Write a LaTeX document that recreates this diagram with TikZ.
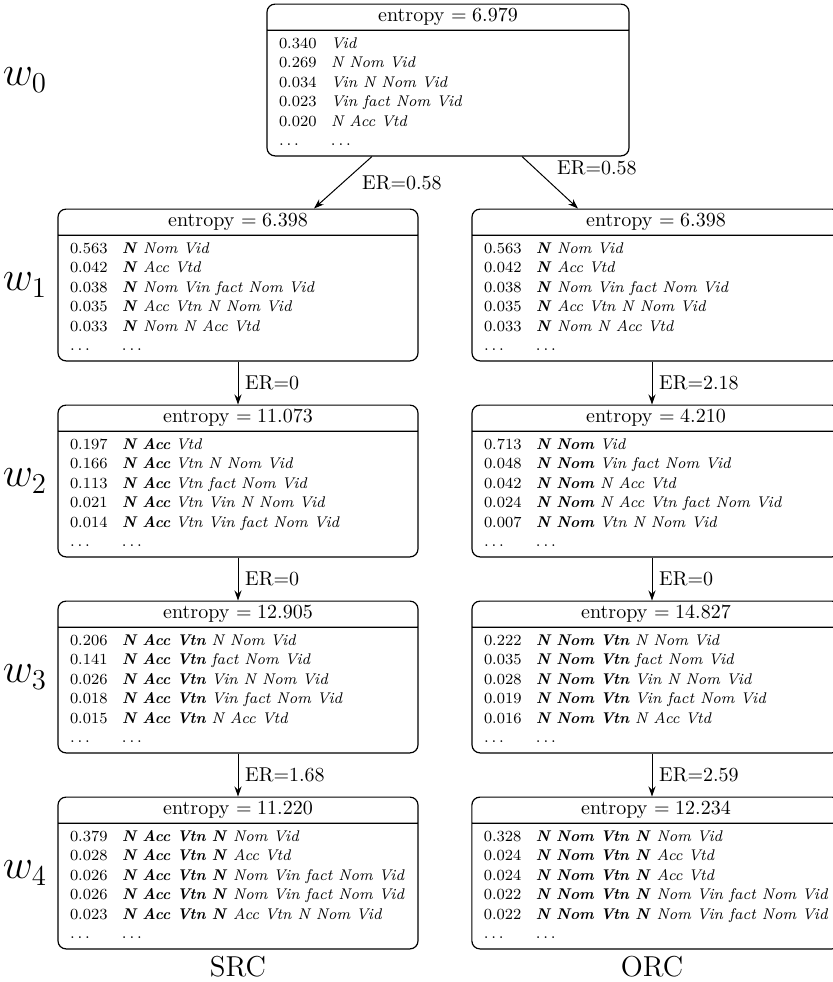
\documentclass[tikz,border=0pt]{standalone}
\usetikzlibrary{shapes.multipart,positioning,arrows.meta}
\newcommand{\pfx}[1]{\textbf{\textit{#1}}}
\newcommand{\rowfont}{\fontsize{7.75}{9.7}\selectfont}
\tikzset{
  cbox/.style={draw, line width=0.6pt, rounded corners=4pt,
    rectangle split, rectangle split parts=2,
    rectangle split part align={center,left},
    minimum width=#1, inner xsep=6pt, inner ysep=2pt},
  arr/.style={-{Stealth[length=5pt,width=3.5pt]}, line width=0.5pt},
  wlbl/.style={font=\huge},
  er/.style={font=\normalsize}
}
\begin{document}
\begin{tikzpicture}[x=0.5pt,y=-0.5pt]
\useasboundingbox (0,0) rectangle (832,982);

% w0
\node[cbox=181pt] (t0) at (448,80) {entropy $= 6.979$
\nodepart{two}{\rowfont\begin{tabular}{@{}p{26pt}@{}l@{}}
0.340 & \textit{Vid}\\
0.269 & \textit{N Nom Vid}\\
0.034 & \textit{Vin N Nom Vid}\\
0.023 & \textit{Vin fact Nom Vid}\\
0.020 & \textit{N Acc Vtd}\\
$\ldots$ & $\ldots$
\end{tabular}}};

% w1
\node[cbox=180pt] (s1) at (238,285) {entropy $= 6.398$
\nodepart{two}{\rowfont\begin{tabular}{@{}p{26pt}@{}l@{}}
0.563 & \pfx{N} \textit{Nom Vid}\\
0.042 & \pfx{N} \textit{Acc Vtd}\\
0.038 & \pfx{N} \textit{Nom Vin fact Nom Vid}\\
0.035 & \pfx{N} \textit{Acc Vtn N Nom Vid}\\
0.033 & \pfx{N} \textit{Nom N Acc Vtd}\\
$\ldots$ & $\ldots$
\end{tabular}}};
\node[cbox=184pt] (o1) at (656,285) {entropy $= 6.398$
\nodepart{two}{\rowfont\begin{tabular}{@{}p{26pt}@{}l@{}}
0.563 & \pfx{N} \textit{Nom Vid}\\
0.042 & \pfx{N} \textit{Acc Vtd}\\
0.038 & \pfx{N} \textit{Nom Vin fact Nom Vid}\\
0.035 & \pfx{N} \textit{Acc Vtn N Nom Vid}\\
0.033 & \pfx{N} \textit{Nom N Acc Vtd}\\
$\ldots$ & $\ldots$
\end{tabular}}};

% w2
\node[cbox=180pt] (s2) at (238,481) {entropy $= 11.073$
\nodepart{two}{\rowfont\begin{tabular}{@{}p{26pt}@{}l@{}}
0.197 & \pfx{N Acc} \textit{Vtd}\\
0.166 & \pfx{N Acc} \textit{Vtn N Nom Vid}\\
0.113 & \pfx{N Acc} \textit{Vtn fact Nom Vid}\\
0.021 & \pfx{N Acc} \textit{Vtn Vin N Nom Vid}\\
0.014 & \pfx{N Acc} \textit{Vtn Vin fact Nom Vid}\\
$\ldots$ & $\ldots$
\end{tabular}}};
\node[cbox=184pt] (o2) at (656,481) {entropy $= 4.210$
\nodepart{two}{\rowfont\begin{tabular}{@{}p{26pt}@{}l@{}}
0.713 & \pfx{N Nom} \textit{Vid}\\
0.048 & \pfx{N Nom} \textit{Vin fact Nom Vid}\\
0.042 & \pfx{N Nom} \textit{N Acc Vtd}\\
0.024 & \pfx{N Nom} \textit{N Acc Vtn fact Nom Vid}\\
0.007 & \pfx{N Nom} \textit{Vtn N Nom Vid}\\
$\ldots$ & $\ldots$
\end{tabular}}};

% w3
\node[cbox=180pt] (s3) at (238,677) {entropy $= 12.905$
\nodepart{two}{\rowfont\begin{tabular}{@{}p{26pt}@{}l@{}}
0.206 & \pfx{N Acc Vtn} \textit{N Nom Vid}\\
0.141 & \pfx{N Acc Vtn} \textit{fact Nom Vid}\\
0.026 & \pfx{N Acc Vtn} \textit{Vin N Nom Vid}\\
0.018 & \pfx{N Acc Vtn} \textit{Vin fact Nom Vid}\\
0.015 & \pfx{N Acc Vtn} \textit{N Acc Vtd}\\
$\ldots$ & $\ldots$
\end{tabular}}};
\node[cbox=184pt] (o3) at (656,677) {entropy $= 14.827$
\nodepart{two}{\rowfont\begin{tabular}{@{}p{26pt}@{}l@{}}
0.222 & \pfx{N Nom Vtn} \textit{N Nom Vid}\\
0.035 & \pfx{N Nom Vtn} \textit{fact Nom Vid}\\
0.028 & \pfx{N Nom Vtn} \textit{Vin N Nom Vid}\\
0.019 & \pfx{N Nom Vtn} \textit{Vin fact Nom Vid}\\
0.016 & \pfx{N Nom Vtn} \textit{N Acc Vtd}\\
$\ldots$ & $\ldots$
\end{tabular}}};

% w4
\node[cbox=180pt] (s4) at (238,873) {entropy $= 11.220$
\nodepart{two}{\rowfont\begin{tabular}{@{}p{26pt}@{}l@{}}
0.379 & \pfx{N Acc Vtn N} \textit{Nom Vid}\\
0.028 & \pfx{N Acc Vtn N} \textit{Acc Vtd}\\
0.026 & \pfx{N Acc Vtn N} \textit{Nom Vin fact Nom Vid}\\
0.026 & \pfx{N Acc Vtn N} \textit{Nom Vin fact Nom Vid}\\
0.023 & \pfx{N Acc Vtn N} \textit{Acc Vtn N Nom Vid}\\
$\ldots$ & $\ldots$
\end{tabular}}};
\node[cbox=184pt] (o4) at (656,873) {entropy $= 12.234$
\nodepart{two}{\rowfont\begin{tabular}{@{}p{26pt}@{}l@{}}
0.328 & \pfx{N Nom Vtn N} \textit{Nom Vid}\\
0.024 & \pfx{N Nom Vtn N} \textit{Acc Vtd}\\
0.024 & \pfx{N Nom Vtn N} \textit{Acc Vtd}\\
0.022 & \pfx{N Nom Vtn N} \textit{Nom Vin fact Nom Vid}\\
0.022 & \pfx{N Nom Vtn N} \textit{Nom Vin fact Nom Vid}\\
$\ldots$ & $\ldots$
\end{tabular}}};

% row labels
\node[wlbl] (w0) at (25,80) {$w_0$};
\node[wlbl] (w1) at (25,285) {$w_1$};
\node[wlbl] (w2) at (25,481) {$w_2$};
\node[wlbl] (w3) at (25,677) {$w_3$};
\node[wlbl] (w4) at (25,873) {$w_4$};

\node[font=\Large, below=0pt of s4] (src) {SRC};
\node[font=\Large, below=0pt of o4, xshift=-2pt] (orc) {ORC};

% arrows
\draw[arr] ([xshift=-38pt]t0.south) -- node[er, right=6pt] {ER=0.58} ([xshift=38pt]s1.north);
\draw[arr] ([xshift=37pt]t0.south) -- node[er, above right] {ER=0.58} ([xshift=-39pt]o1.north);
\draw[arr] (s1) -- node[er, right] {ER=0} (s2);
\draw[arr] ([xshift=-2pt]o1.south) -- node[er, right] {ER=2.18} ([xshift=-2pt]o2.north);
\draw[arr] (s2) -- node[er, right] {ER=0} (s3);
\draw[arr] ([xshift=-2pt]o2.south) -- node[er, right] {ER=0} ([xshift=-2pt]o3.north);
\draw[arr] (s3) -- node[er, right] {ER=1.68} (s4);
\draw[arr] ([xshift=-2pt]o3.south) -- node[er, right] {ER=2.59} ([xshift=-2pt]o4.north);
\end{tikzpicture}
\end{document}
